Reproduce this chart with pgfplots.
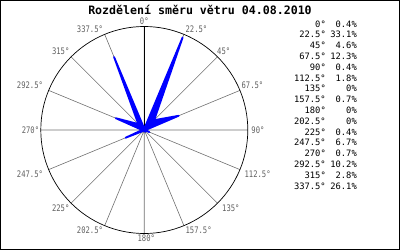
\documentclass[border=0pt]{standalone}
\usepackage{fontspec}
\setmainfont{DejaVu Sans Mono}
\newfontfamily\tickfont[FakeStretch=0.8]{DejaVu Sans Mono}
\usepackage{pgfplots}
\usepgfplotslibrary{polar}
\pgfplotsset{compat=1.18}
\definecolor{spoke}{HTML}{707070}
\definecolor{lbl}{HTML}{606060}
\tikzset{lb/.style={font=\tickfont\fontsize{9}{9}\selectfont, text=lbl, inner sep=1.5pt}}
\begin{document}
\begin{tikzpicture}
\useasboundingbox (0pt,0pt) rectangle (400pt,250pt);
\draw[black, line width=1pt] (0.5pt,0.5pt) rectangle (399.5pt,249.5pt);
\node[font=\fontsize{11.6}{12}\selectfont\bfseries] at (200pt,240pt) {Rozdělení směru větru 04.08.2010};
\begin{polaraxis}[
  at={(144.3pt,120pt)}, anchor=center,
  width=207pt, height=207pt, scale only axis,
  rotate=-90, x dir=reverse,
  xmin=0, xmax=360, ymin=0, ymax=34.2,
  xtick={0,22.5,45,67.5,90,112.5,135,157.5,180,202.5,225,247.5,270,292.5,315,337.5},
  xticklabels={},
  ytick=\empty,
  xmajorgrids, grid style={spoke, line width=0.6pt},
  axis line style={black, line width=0.7pt},
  major tick length=0pt,
  clip=false,
]
\addplot[fill=blue, draw=blue, line width=1.8pt, line join=round] coordinates {
 (0,0.4) (22.5,33.1) (45,4.6) (67.5,12.3) (90,0.4) (112.5,1.8) (135,0) (157.5,0.7)
 (180,0) (202.5,0) (225,0.4) (247.5,6.7) (270,0.7) (292.5,10.2) (315,2.8) (337.5,26.1) (360,0.4)};
\node[lb, anchor=south] at (axis cs:0,34.2) {0°};
\node[lb, anchor=south west] at (axis cs:22.5,34.2) {22.5°};
\node[lb, anchor=south west, xshift=-2pt] at (axis cs:45,34.2) {45°};
\node[lb, anchor=south west] at (axis cs:67.5,34.2) {67.5°};
\node[lb, anchor=west, xshift=2pt] at (axis cs:90,34.2) {90°};
\node[lb, anchor=north west, xshift=3pt] at (axis cs:112.5,34.2) {112.5°};
\node[lb, anchor=north west, xshift=3pt] at (axis cs:135,34.2) {135°};
\node[lb, anchor=north west] at (axis cs:157.5,34.2) {157.5°};
\node[lb, anchor=north, xshift=2pt] at (axis cs:180,34.2) {180°};
\node[lb, anchor=north east] at (axis cs:202.5,34.2) {202.5°};
\node[lb, anchor=north east] at (axis cs:225,34.2) {225°};
\node[lb, anchor=north east, xshift=-4pt] at (axis cs:247.5,34.2) {247.5°};
\node[lb, anchor=east] at (axis cs:270,34.2) {270°};
\node[lb, anchor=south east, xshift=-4pt] at (axis cs:292.5,34.2) {292.5°};
\node[lb, anchor=south east] at (axis cs:315,34.2) {315°};
\node[lb, anchor=south east] at (axis cs:337.5,34.2) {337.5°};
\end{polaraxis}
\foreach \a/\p [count=\i from 0] in {0/0.4,22.5/33.1,45/4.6,67.5/12.3,90/0.4,112.5/1.8,135/0,157.5/0.7,180/0,202.5/0,225/0.4,247.5/6.7,270/0.7,292.5/10.2,315/2.8,337.5/26.1}{
  \node[anchor=base east, inner sep=0pt, font=\fontsize{8.8}{9}\selectfont] at (326pt,{(250-24-10.8*\i-3)*1pt}) {\a°};
  \node[anchor=base east, inner sep=0pt, font=\fontsize{8.8}{9}\selectfont] at (357pt,{(250-24-10.8*\i-3)*1pt}) {\p\%};
}
\end{tikzpicture}
\end{document}
